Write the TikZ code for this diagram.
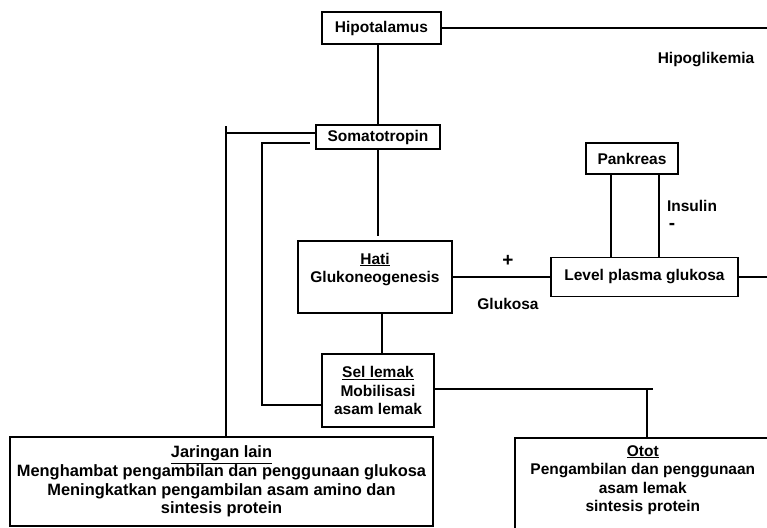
\documentclass[tikz,border=0pt]{standalone}
\usepackage{fontspec}
\setmainfont{Liberation Sans}
\usetikzlibrary{calc}
\tikzset{
  organ/.style={
    draw, line width=1.6pt, inner sep=0pt, align=center,
    font=\fontsize{15.5}{18.6}\selectfont\bfseries,
  },
  lbl/.style={font=\fontsize{15.5}{18.6}\selectfont\bfseries, inner sep=0pt},
  sign/.style={lbl, font=\fontsize{19}{19}\selectfont\bfseries},
  ln/.style={line width=1.8pt},
}
\begin{document}
\begin{tikzpicture}[x=1pt,y=-1pt]
  \useasboundingbox (0,0) rectangle (767,527);
  \clip (0,0) rectangle (767,527);

  \node[organ, minimum width=119, minimum height=32] (hipo) at (381.5,28) {Hipotalamus};
  \node[organ, minimum width=124, minimum height=24] (soma) at (378,137) {Somatotropin};
  \node[organ, minimum width=154, minimum height=72] (hati) at (375,277) {\underline{Hati}\\Glukoneogenesis\\\mbox{}};
  \node[organ, minimum width=187, minimum height=39] (level) at (644.5,277) {Level plasma glukosa};
  \node[organ, minimum width=92, minimum height=31] (pank) at (632,158.5) {Pankreas};
  \node[organ, minimum width=112, minimum height=73] (sel) at (378,390.5) {\underline{Sel lemak}\\Mobilisasi\\asam lemak};
  \node[organ, minimum width=423, minimum height=89, font=\fontsize{16.4}{18.6}\selectfont\bfseries] (jar) at (221.5,481.5) {%
    \underline{Jaringan lain}\\Menghambat pengambilan dan penggunaan glukosa\\Meningkatkan pengambilan asam amino dan\\sintesis protein};
  \node[organ, minimum width=256, minimum height=100, anchor=north west] (otot) at (514,437) {%
    \underline{Otot}\\Pengambilan dan penggunaan\\asam lemak\\sintesis protein\\\mbox{}};

  \node[lbl] (hipog) at (706,60) {Hipoglikemia};
  \node[lbl] (ins) at (692,206) {Insulin};
  \node[sign] (minus) at (672,226) {-};
  \node[sign] (plus) at (508,261) {+};
  \node[lbl] (glu) at (508,304) {Glukosa};

  % hipotalamus - somatotropin - hati
  \coordinate (ujung1) at (767,28);
  \draw[ln] (hipo.east) -- (ujung1);
  \draw[ln] (soma.north) -- (soma.north |- hipo.south);
  \coordinate (h0) at ($(soma.south |- hati.north)+(0,-4)$);
  \draw[ln] (soma.south) -- (h0);

  % cabang kiri
  \coordinate (kiri1) at (226,126);
  \coordinate (s1) at ([yshift=4pt]soma.west);
  \draw[ln] (s1) -- (s1 -| kiri1);
  \draw[ln] (kiri1) -- (kiri1 |- jar.north);
  \coordinate (s2) at ([xshift=-5pt,yshift=-6pt]soma.west);
  \coordinate (kiri2) at (262,143);
  \coordinate (s3) at ([yshift=-14.5pt]sel.west);
  \draw[ln] (s2) -- (kiri2) -- (kiri2 |- s3) -- (s3);

  % hati - level - pankreas
  \draw[ln] (hati.east) -- (hati.east -| level.west);
  \coordinate (ujung2) at (767,277);
  \draw[ln] (level.east) -- (ujung2);
  \coordinate (p1) at ([xshift=-21pt]pank.south);
  \coordinate (p2) at ([xshift=27pt]pank.south);
  \draw[ln] (p1) -- (p1 |- level.north);
  \draw[ln] (p2) -- (p2 |- level.north);

  % hati - sel lemak - otot
  \coordinate (h1) at ([xshift=4pt]sel.north);
  \draw[ln] (h1) -- (h1 |- hati.south);
  \coordinate (s4) at ([yshift=1.5pt]sel.east);
  \coordinate (cab) at (653,389);
  \coordinate (turun) at (647,389);
  \draw[ln] (s4) -- (cab);
  \draw[ln] (turun) -- (turun |- otot.north);
\end{tikzpicture}
\end{document}
